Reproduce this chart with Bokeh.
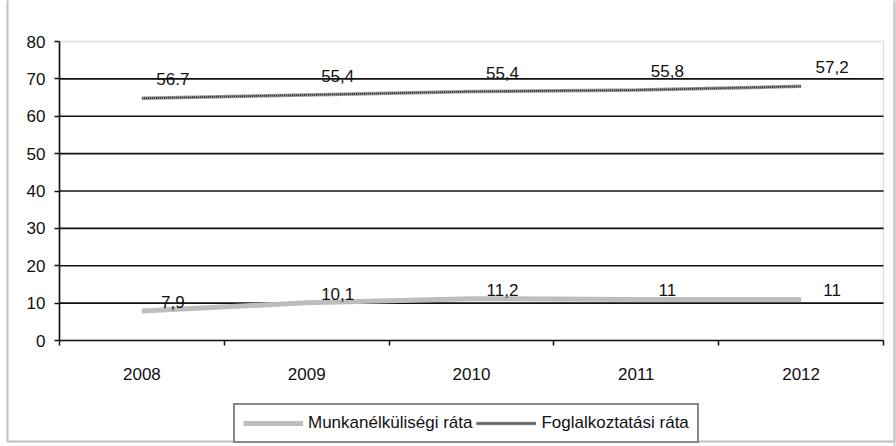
from bokeh.plotting import figure
from bokeh.models import (Range1d, FixedTicker, Legend, LegendItem, ColumnDataSource,
                          BoxAnnotation, Span)
from bokeh.core.properties import value
from bokeh.embed import file_html
from bokeh.resources import INLINE

years = ["2008", "2009", "2010", "2011", "2012"]
unemployment = [7.9, 10.1, 11.2, 11.0, 11.0]
unemployment_labels = ["7,9", "10,1", "11,2", "11", "11"]
employment = [64.8, 65.7, 66.6, 67.0, 68.0]
employment_labels = ["56.7", "55,4", "55,4", "55,8", "57,2"]
y_ticks = [0, 10, 20, 30, 40, 50, 60, 70, 80]
series_names = ["Munkanélküliségi ráta", "Foglalkoztatási ráta"]

FONT = "Liberation Sans"
FS = "17px"
W, H = 896, 446
# plot-area placement inside the canvas (pixels)
PL, PR, PT, PB = 59, 883, 41, 340
n = len(years)
ymax = y_ticks[-1]
xs = (PR - PL) / n
ys = (PB - PT) / ymax

x = [i + 0.5 for i in range(n)]

p = figure(width=W, height=H, output_backend="svg", toolbar_location=None,
           x_range=Range1d(-PL / xs, n + (W - PR) / xs),
           y_range=Range1d(-(H - PB) / ys, ymax + PT / ys),
           min_border=0)
p.background_fill_color = "white"
p.border_fill_color = "white"
p.outline_line_color = None
p.xgrid.visible = False
p.ygrid.visible = False

# outer chart-area frame
p.add_layout(BoxAnnotation(left=7, right=W - 2, top=5, bottom=H + 20,
                           left_units="screen", right_units="screen",
                           top_units="screen", bottom_units="screen",
                           fill_alpha=0, line_color="#2a2a2a", line_width=2,
                           level="underlay"))
p.add_layout(Span(location=W - 2, location_units="screen", dimension="height",
                  line_color="#c8c8c8", line_width=2, level="underlay"))

# plot-area border
p.add_layout(BoxAnnotation(left=0, right=n, bottom=0, top=ymax,
                           fill_alpha=0, line_color="#9a9a9a", line_width=1.5,
                           level="underlay"))

# horizontal gridlines
gv = y_ticks[1:-1]
p.segment(x0=[0] * len(gv), x1=[n] * len(gv), y0=gv, y1=gv,
          line_color="#111111", line_width=1.6)

# y axis
p.yaxis.fixed_location = 0
p.yaxis.bounds = (0, ymax)
p.yaxis.ticker = FixedTicker(ticks=y_ticks)
p.yaxis.axis_line_color = "#111111"
p.yaxis.axis_line_width = 1.6
p.yaxis.major_tick_line_color = "#111111"
p.yaxis.major_tick_line_width = 1.5
p.yaxis.major_tick_out = 5
p.yaxis.major_tick_in = 0
p.yaxis.minor_tick_line_color = None
p.yaxis.major_label_standoff = 9
p.yaxis.major_label_text_font = FONT
p.yaxis.major_label_text_font_size = FS
p.yaxis.major_label_text_color = "#111111"

# x axis: labels at centres, tick marks at boundaries
p.xaxis.fixed_location = 0
p.xaxis.bounds = (0, n)
p.xaxis.ticker = FixedTicker(ticks=x, minor_ticks=list(range(n + 1)))
p.xaxis.major_label_overrides = {xi: y for xi, y in zip(x, years)}
p.xaxis.axis_line_color = "#111111"
p.xaxis.axis_line_width = 1.6
p.xaxis.major_tick_line_color = None
p.xaxis.major_tick_out = 0
p.xaxis.major_tick_in = 0
p.xaxis.minor_tick_line_color = "#111111"
p.xaxis.minor_tick_line_width = 1.5
p.xaxis.minor_tick_out = 5
p.xaxis.minor_tick_in = 0
p.xaxis.major_label_standoff = 22
p.xaxis.major_label_text_font = FONT
p.xaxis.major_label_text_font_size = FS
p.xaxis.major_label_text_color = "#111111"

src = ColumnDataSource(dict(x=x, u=unemployment, ul=unemployment_labels,
                            e=employment, el=employment_labels))

r_u = p.line("x", "u", source=src, line_color="#bdbdbd", line_width=5)
r_e1 = p.line("x", "e", source=src, line_color="#9a9a9a", line_width=3.5)
r_e2 = p.line("x", "e", source=src, line_color="#2a2a2a", line_width=1.8, line_dash="1 1")

p.text("x", "u", text="ul", source=src, x_offset=31, y_offset=-9,
       text_align="center", text_baseline="alphabetic",
       text_font=value(FONT), text_font_size=FS, text_color="#111111")
p.text("x", "e", text="el", source=src, x_offset=31, y_offset=-19,
       text_align="center", text_baseline="alphabetic",
       text_font=value(FONT), text_font_size=FS, text_color="#111111")

legend = Legend(items=[LegendItem(label=series_names[0], renderers=[r_u]),
                       LegendItem(label=series_names[1], renderers=[r_e1, r_e2])],
                orientation="horizontal", location=(233, 3))
legend.glyph_width = 60
legend.glyph_height = 20
legend.label_standoff = 5
legend.spacing = 4
legend.padding = 8
legend.margin = 0
legend.label_text_font = FONT
legend.label_text_font_size = FS
legend.label_text_color = "#111111"
legend.border_line_color = "#111111"
legend.border_line_width = 2
legend.background_fill_color = "white"
legend.background_fill_alpha = 1
p.add_layout(legend, "center")

open("out.html", "w").write(file_html(p, INLINE))
